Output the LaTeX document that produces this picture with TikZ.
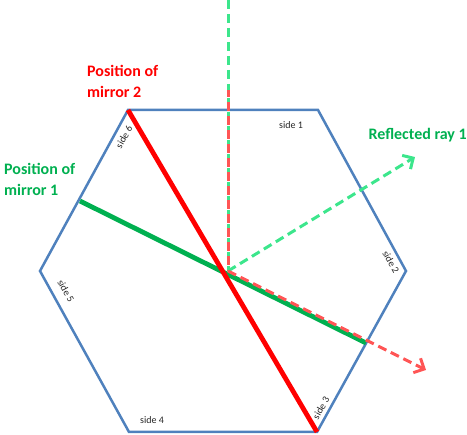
\documentclass[tikz,border=0pt]{standalone}
\usepackage{fontspec}
\setmainfont{Carlito}
\usetikzlibrary{arrows.meta}
\definecolor{hexblue}{HTML}{4F81BD}
\definecolor{mgreen}{HTML}{00B050}
\definecolor{mred}{HTML}{FF0000}
\definecolor{rgreen}{HTML}{3CE68C}
\definecolor{rred}{HTML}{FF5555}
\definecolor{sidegray}{HTML}{262626}
\tikzset{
  hexline/.style={draw=hexblue, line width=2.5pt, line join=miter},
  mirror/.style={line width=4.8pt},
  ray/.style={line width=3pt, dash pattern=on 9pt off 5pt},
  raytip/.style={-{Straight Barb[length=8pt,width=16pt,line width=3pt]}},
  bigtext/.style={font=\bfseries\fontsize{16}{21}\selectfont, align=left, inner sep=0pt},
  sidetext/.style={font=\fontsize{10}{12}\selectfont, text=sidegray, inner sep=0pt},
}
\begin{document}
\begin{tikzpicture}[x=1pt,y=-1pt]
\useasboundingbox (0,0) rectangle (467,435);
% hexagon vertices
\coordinate (v1) at (128,110);
\coordinate (v2) at (318,110);
\coordinate (v3) at (406,271);
\coordinate (v4) at (317,432);
\coordinate (v5) at (129,432);
\coordinate (v6) at (40,271);
\draw[hexline] (v1) -- (v2) -- (v3) -- (v4) -- (v5) -- (v6) -- cycle;
% mirrors
\coordinate (m1a) at (80,201);
\coordinate (m1b) at (366,343);
\draw[mirror, draw=mgreen] (m1a) -- (m1b);
\draw[mirror, draw=mred] (v1) -- (v4);
% rays
\coordinate (hit) at (228,271);
\coordinate (top) at (228,0);
\coordinate (redstart) at (228,90);
\coordinate (gtip) at (415,157);
\coordinate (rtip) at (426,370);
\draw[ray, draw=rgreen] (top) -- (hit);
\draw[ray, draw=rred, dash phase=2pt] (redstart) -- (hit);
\draw[ray, draw=rgreen, raytip] (hit) -- (gtip);
\draw[ray, draw=rred, raytip] (hit) -- (rtip);
% labels
\node[bigtext, text=mred, anchor=north west] (lab2) at (87,65) {Position of\\mirror 2};
\node[bigtext, text=mgreen, anchor=north west] (lab1) at (4,163) {Position of\\mirror 1};
\node[bigtext, text=mgreen, anchor=east] (labr) at (467,135) {Reflected ray 1};
% side labels
\node[sidetext] (s1) at (291,125) {side 1};
\node[sidetext, rotate=-61] (s2) at (391,262) {side 2};
\node[sidetext, rotate=61] (s3) at (321,408) {side 3};
\node[sidetext] (s4) at (152,420) {side 4};
\node[sidetext, rotate=-61] (s5) at (66,291) {side 5};
\node[sidetext, rotate=61] (s6) at (124,137) {side 6};
\end{tikzpicture}
\end{document}
